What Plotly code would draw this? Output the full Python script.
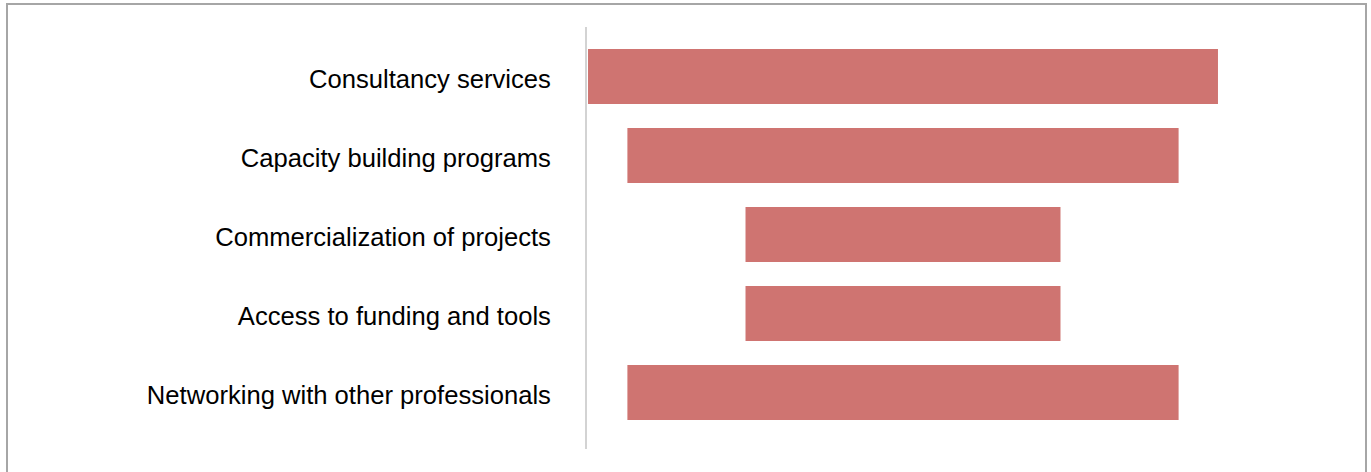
import plotly.graph_objects as go

# Support areas and their relative weight
categories = [
    "Consultancy services",
    "Capacity building programs",
    "Commercialization of projects",
    "Access to funding and tools",
    "Networking with other professionals",
]
values = [8, 7, 4, 4, 7]

W, H = 1371, 472
L, R, T, B = 587, 152, 27, 23
plot_w = W - L - R
plot_h = H - T - B

fig = go.Figure(
    go.Funnel(
        y=categories,
        x=values,
        orientation="h",
        marker=dict(color="#cf7471", line=dict(width=0)),
        connector=dict(visible=False),
        textinfo="none",
        hoverinfo="y+x",
        width=0.696,
    )
)

# Outer frame around the chart
def px_to_paper_x(px):
    return (px - L) / plot_w

def px_to_paper_y(py):
    return (H - B - py) / plot_h

fig.add_shape(
    type="rect", xref="paper", yref="paper",
    x0=px_to_paper_x(7), x1=px_to_paper_x(1366),
    y0=px_to_paper_y(490), y1=px_to_paper_y(4),
    line=dict(color="#a6a6a6", width=2), fillcolor="rgba(0,0,0,0)",
    layer="below",
)

fig.update_layout(
    width=W, height=H,
    margin=dict(l=L, r=R, t=T, b=B, pad=0),
    paper_bgcolor="white", plot_bgcolor="white",
    showlegend=False,
    font=dict(family="Liberation Sans, Arial, Helvetica, sans-serif", size=25.6, color="#000000"),
    xaxis=dict(
        range=[-4.013, 4.013], visible=False, showgrid=False, zeroline=False,
    ),
    yaxis=dict(
        categoryorder="array", categoryarray=categories,
        range=[4.715, -0.627], autorange=False,
        showline=True, linecolor="#d3d3d3", linewidth=2,
        showgrid=False, zeroline=False, ticks="",
        ticklabelstandoff=29,
        ticklabelshift=-3,
        tickfont=dict(size=25.6, color="#000000"),
    ),
)

fig.write_html("out.html")
